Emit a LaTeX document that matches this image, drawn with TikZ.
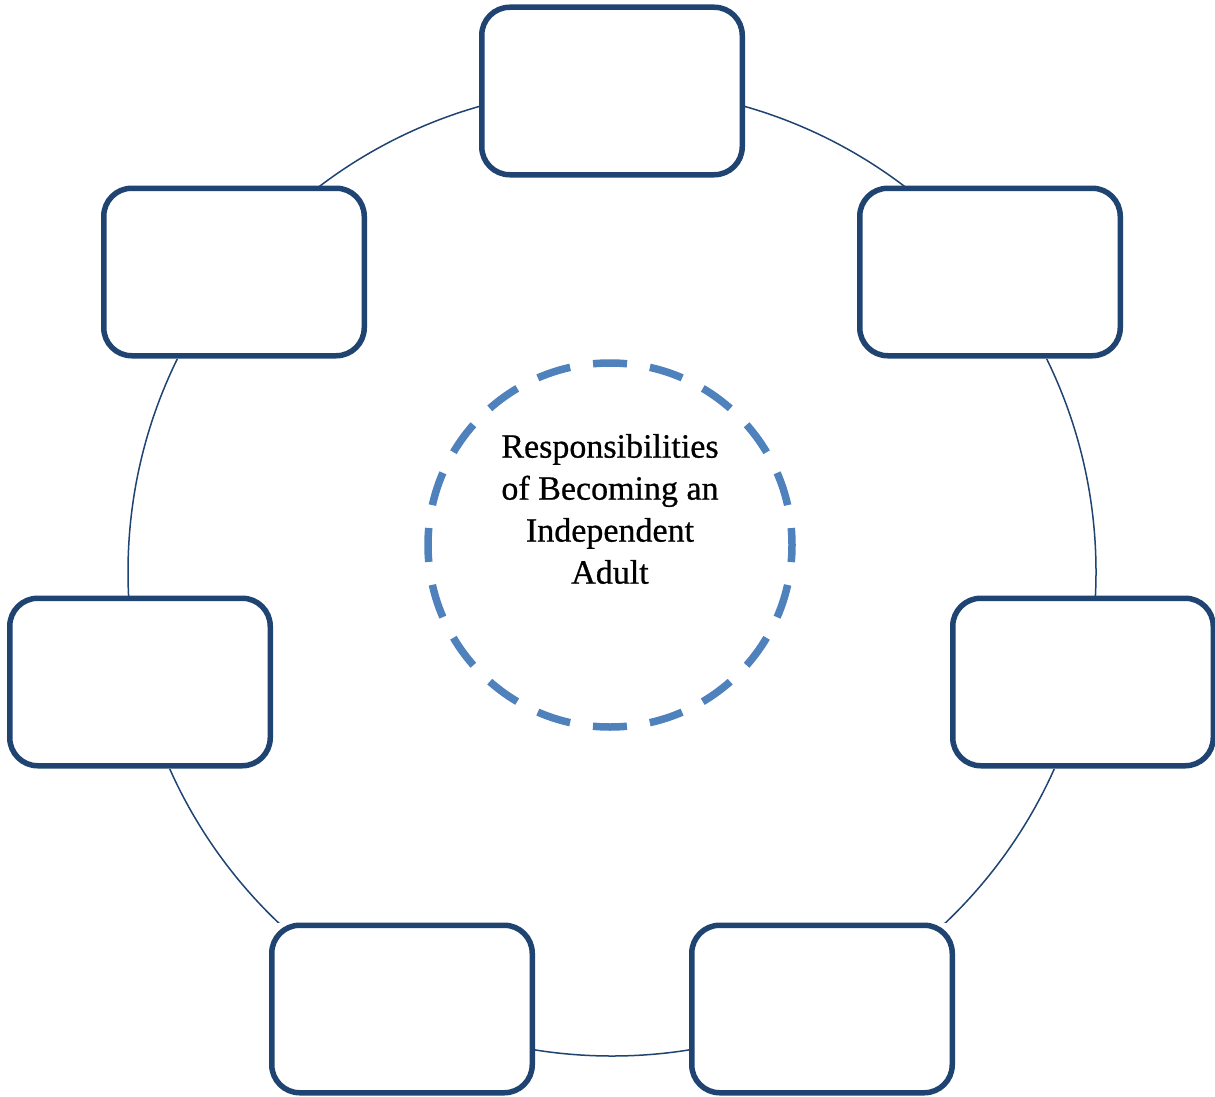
\documentclass[tikz,border=0pt]{standalone}
\usepackage{fontspec}
\setmainfont{Liberation Serif}
\newfontfamily\titlefont{Liberation Serif}[BoldFont={Liberation Serif}, BoldFeatures={FakeBold=0.7}]
\definecolor{boxblue}{RGB}{31,68,114}
\definecolor{dashblue}{RGB}{79,129,189}
\pgfdeclarelayer{ring}
\pgfdeclarelayer{mask}
\pgfsetlayers{ring,mask,main}
\begin{document}
\begin{tikzpicture}[x=1pt,y=-1pt,
  slot/.style={draw=boxblue, line width=5.5pt, fill=white, rounded corners=28pt,
    minimum width=260.5pt, minimum height=167.5pt, inner sep=0pt},
  ringline/.style={draw=boxblue, line width=1.5pt},
  hub/.style={draw=dashblue, line width=7.5pt, circle, minimum size=364pt, inner sep=0pt,
    dash pattern=on 34pt off 23.18pt, dash phase=17pt},
  title/.style={align=center, font=\titlefont\bfseries\fontsize{34}{42}\selectfont, inner sep=0pt}]
\useasboundingbox (0,0) rectangle (1215,1097);
\coordinate (ringc) at (612,572);
\node[slot] (t)  at (612,91) {};
\node[slot] (ul) at (234,272) {};
\node[slot] (ur) at (990,272) {};
\node[slot] (l)  at (140,682) {};
\node[slot] (r)  at (1083,682) {};
\node[slot] (bl) at (402,1009) {};
\node[slot] (br) at (822,1009) {};
\begin{pgfonlayer}{ring}
\fill[white] (0,0) rectangle (1215,1097);
\draw[ringline] (ringc) circle[radius=484];
\end{pgfonlayer}
\begin{pgfonlayer}{mask}
\foreach \n in {t,ul,ur,l,r,bl,br}{
  \fill[white] (\n.south west) rectangle (\n.north east);
}
\end{pgfonlayer}
\node[hub] (hubc) at (610,545) {};
\node[title] (lbl) at (610,509) {Responsibilities\\of Becoming an\\Independent\\Adult};
\end{tikzpicture}
\end{document}
